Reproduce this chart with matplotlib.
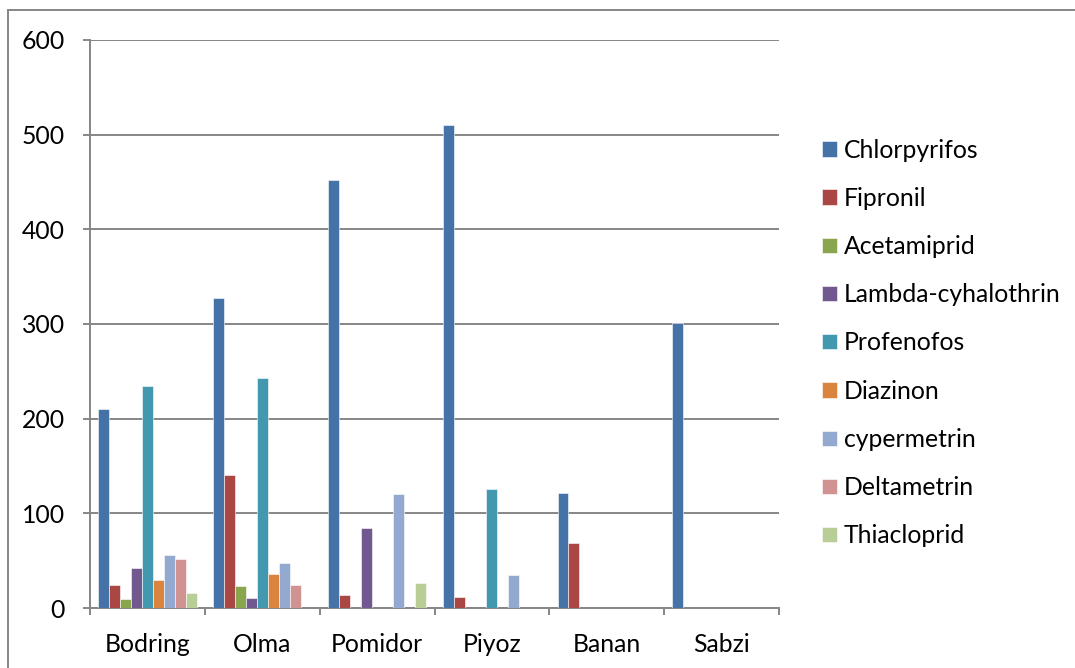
import matplotlib
matplotlib.use("Agg")
import matplotlib.pyplot as plt
import numpy as np
from matplotlib.lines import Line2D

plt.rcParams["font.family"] = ["Lato", "DejaVu Sans"]

categories = ["Bodring", "Olma", "Pomidor", "Piyoz", "Banan", "Sabzi"]
series_names = ["Chlorpyrifos", "Fipronil", "Acetamiprid", "Lambda-cyhalothrin",
                "Profenofos", "Diazinon", "cypermetrin", "Deltametrin", "Thiacloprid"]

chlorpyrifos = [210, 327, 452, 510, 121, 301]
fipronil = [24, 140, 14, 12, 69, 0]
acetamiprid = [10, 23, 0, 0, 0, 0]
lambda_cyhalothrin = [42, 11, 85, 0, 0, 0]
profenofos = [235, 243, 0, 126, 0, 0]
diazinon = [30, 36, 0, 0, 0, 0]
cypermetrin = [56, 48, 120, 35, 0, 0]
deltametrin = [52, 24, 0, 0, 0, 0]
thiacloprid = [16, 0, 26, 0, 0, 0]

series = [chlorpyrifos, fipronil, acetamiprid, lambda_cyhalothrin, profenofos,
          diazinon, cypermetrin, deltametrin, thiacloprid]
colors = ["#4572A7", "#AA4643", "#89A54E", "#71588F", "#4198AF",
          "#DB843D", "#93A9CF", "#D19392", "#B9CD96"]

grey = "#868686"
FS = 17.8

fig = plt.figure(figsize=(10.75, 6.68), dpi=100)
ax = fig.add_axes([90 / 1075, 1 - 608 / 668, (779 - 90) / 1075, (608 - 40) / 668])

n = len(series)
bw = 1 / (n + 1.5)
x = np.arange(len(categories))
for i, (vals, name, c) in enumerate(zip(series, series_names, colors)):
    ax.bar(x - 0.5 + 0.75 * bw + (i + 0.5) * bw, vals, width=bw, color=c,
           label=name, edgecolor="white", linewidth=0.4, zorder=3)

ax.set_xlim(-0.5, len(categories) - 0.5)
ax.set_ylim(0, 600)
ax.set_yticks(range(0, 601, 100))
ax.yaxis.grid(True, color=grey, linewidth=1.4, zorder=0)
ax.set_axisbelow(True)

ax.set_xticks(x)
ax.set_xticklabels(categories)
ax.set_xticks(np.arange(-0.5, len(categories)), minor=True)
ax.tick_params(axis="x", which="major", length=0, pad=18, labelsize=FS)
ax.tick_params(axis="x", which="minor", length=5, width=1.4, color=grey)
ax.tick_params(axis="y", length=5, width=1.4, color=grey, labelsize=FS, pad=13)

for s in ["top", "right"]:
    ax.spines[s].set_visible(False)
for s in ["left", "bottom"]:
    ax.spines[s].set_color(grey)
    ax.spines[s].set_linewidth(1.4)

ax.legend(loc="center left", bbox_to_anchor=(810 / 1075, 1 - 343 / 668),
          bbox_transform=fig.transFigure, frameon=False, borderpad=0,
          fontsize=FS, handlelength=0.58, handleheight=0.58, handletextpad=0.3,
          labelspacing=1.02)

# outer chart border (partly cut off)
y0 = 1 - 10 / 668
x0 = 8 / 1075
fig.add_artist(Line2D([x0, 1], [y0, y0], color=grey, linewidth=1.4))
fig.add_artist(Line2D([x0, x0], [0, y0], color=grey, linewidth=1.4))

fig.savefig("out.png", dpi=100)
